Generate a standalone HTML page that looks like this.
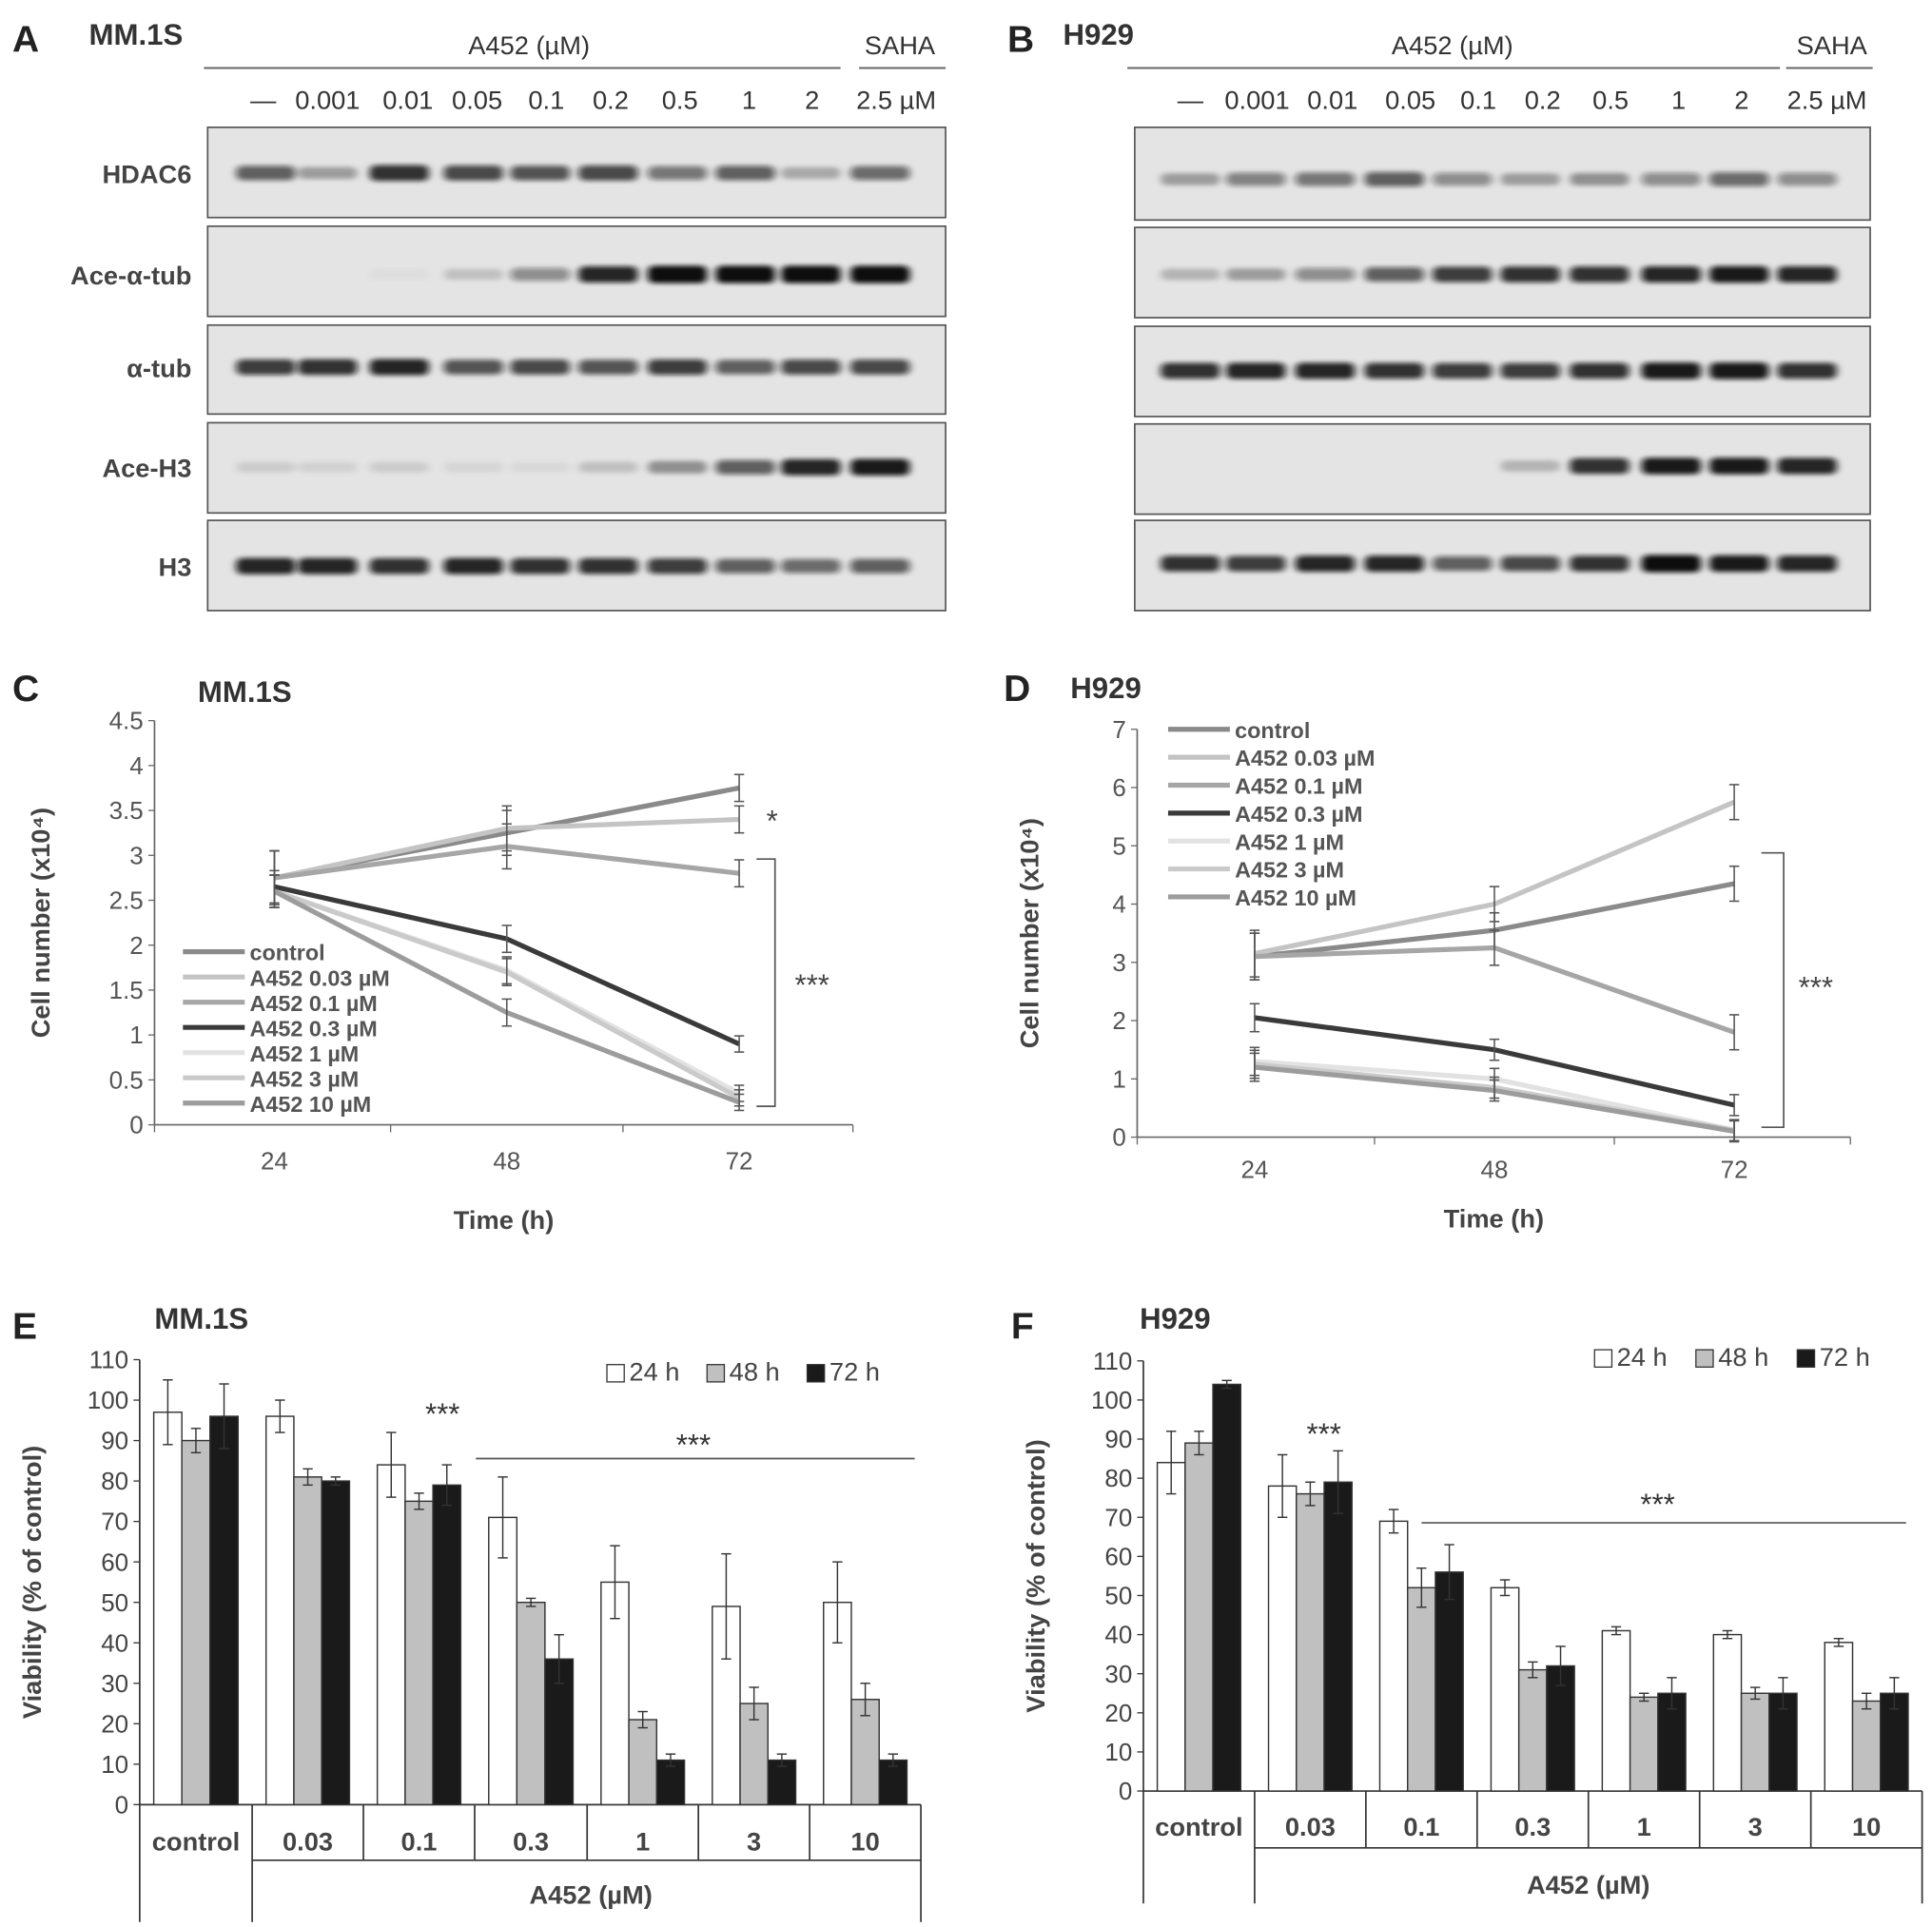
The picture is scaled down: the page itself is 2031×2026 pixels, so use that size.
<!DOCTYPE html>
<html><head><meta charset="utf-8"><style>
html,body{margin:0;padding:0;background:#fff;}
svg{display:block;font-family:"Liberation Sans",Arial,sans-serif;}
</style></head><body>
<svg id="fig" width="2031" height="2026" viewBox="0 0 1563 1559" preserveAspectRatio="none">
<defs>
<filter id="blur" x="-50%" y="-100%" width="200%" height="300%"><feGaussianBlur stdDeviation="3 1.8"/></filter>
</defs>
<g id="root"></g>
</svg>
<script>
// ---------- Western blot data ----------
const laneLabelsA = ["—","0.001","0.01","0.05","0.1","0.2","0.5","1","2","2.5 µM"];
const blotNames = ["HDAC6","Ace-α-tub","α-tub","Ace-H3","H3"];
const blotA_HDAC6 = [0.6,0.3,0.8,0.7,0.65,0.7,0.5,0.6,0.25,0.55];
const blotA_AceTub = [0,0,0.03,0.15,0.4,0.85,1,1,1,1];
const blotA_Tub = [0.75,0.8,0.85,0.65,0.7,0.65,0.75,0.6,0.7,0.7];
const blotA_AceH3 = [0.1,0.08,0.1,0.06,0.05,0.15,0.35,0.6,0.85,0.9];
const blotA_H3 = [0.85,0.85,0.8,0.85,0.8,0.8,0.75,0.6,0.55,0.6];
const blotB_HDAC6 = [0.3,0.45,0.5,0.6,0.4,0.3,0.35,0.4,0.55,0.4];
const blotB_AceTub = [0.2,0.3,0.4,0.6,0.75,0.8,0.8,0.85,0.9,0.85];
const blotB_Tub = [0.8,0.85,0.85,0.8,0.75,0.75,0.8,0.9,0.9,0.8];
const blotB_AceH3 = [0,0,0,0,0,0.2,0.8,0.9,0.9,0.85];
const blotB_H3 = [0.8,0.75,0.85,0.85,0.6,0.7,0.8,1,0.9,0.85];

// ---------- Line chart data ----------
const timeLabels = ["24","48","72"];
const seriesNames = ["control","A452 0.03 µM","A452 0.1 µM","A452 0.3 µM","A452 1 µM","A452 3 µM","A452 10 µM"];
const seriesColors = ["#8a8a8a","#c4c4c4","#a6a6a6","#3a3a3a","#e2e2e2","#cacaca","#9c9c9c"];
const mm_control=[2.75,3.25,3.75], mm_003=[2.75,3.3,3.4], mm_01=[2.75,3.1,2.8], mm_03=[2.65,2.07,0.9], mm_1=[2.6,1.72,0.35], mm_3=[2.6,1.7,0.3], mm_10=[2.6,1.25,0.25];
const mmErr=[0.3,0.25,0.15];
const h_control=[3.1,3.55,4.35], h_003=[3.15,4.0,5.75], h_01=[3.1,3.25,1.8], h_03=[2.05,1.5,0.55], h_1=[1.3,1.0,0.12], h_3=[1.25,0.85,0.12], h_10=[1.2,0.8,0.1];
const hErr=[0.4,0.3,0.3];
const cTicks=["0","0.5","1","1.5","2","2.5","3","3.5","4","4.5"];
const dTicks=["0","1","2","3","4","5","6","7"];

// ---------- Bar chart data ----------
const barCats=["control","0.03","0.1","0.3","1","3","10"];
const barLegend=["24 h","48 h","72 h"];
const barColors=["#ffffff","#c0c0c0","#1a1a1a"];
const e24=[97,96,84,71,55,49,50], e48=[90,81,75,50,21,25,26], e72=[96,80,79,36,11,11,11];
const e24err=[8,4,8,10,9,13,10], e48err=[3,2,2,1,2,4,4], e72err=[8,1,5,6,1.5,1.5,1.5];
const f24=[84,78,69,52,41,40,38], f48=[89,76,52,31,24,25,23], f72=[104,79,56,32,25,25,25];
const f24err=[8,8,3,2,1,1,1], f48err=[3,3,5,2,1,1.5,2], f72err=[1,8,7,5,4,4,4];
const barTicks=["0","10","20","30","40","50","60","70","80","90","100","110"];

const NS="http://www.w3.org/2000/svg";
const root=document.getElementById('root');
function mk(tag,attrs,parent,txt){const e=document.createElementNS(NS,tag);for(const k in attrs)e.setAttribute(k,attrs[k]);if(txt!==undefined)e.textContent=txt;(parent||root).appendChild(e);return e;}
function txt(x,y,s,size,opts,parent){const o=Object.assign({x:x,y:y,'font-size':size,fill:'#333'},opts||{});const t=mk('text',o,parent,s);return t;}

function panelTitle(letter,lx,ly,name,nx,ny){
  const a=txt(lx,ly,letter,30,{fill:'#222','font-weight':'bold'});
  
  
  const b=txt(nx,ny,name,24,{'font-weight':'bold',fill:'#333'});
  
  
}

function blotPanel(id,boxX1,boxX2,boxes,lanesX,laneLabelX,data,bandY,labelX,showLabels,a452cx,lineA,sahaX,lineS){
  const g=mk('g',{});
  
  
  const t1=txt(a452cx,44,"A452 (µM)",21,{'text-anchor':'middle'},g);
  
  mk('line',{x1:lineA[0],x2:lineA[1],y1:55,y2:55,stroke:'#666','stroke-width':1.5},g);
  const t2=txt(sahaX,44,"SAHA",21,{'text-anchor':'middle'},g);
  
  mk('line',{x1:lineS[0],x2:lineS[1],y1:55,y2:55,stroke:'#666','stroke-width':1.5},g);
  laneLabelsA.forEach((l,i)=>{const t=txt(laneLabelX[i],88,l,21,{'text-anchor':'middle'},g);
    });
  boxes.forEach((b,k)=>{
    const r=mk('rect',{x:boxX1,y:b[0],width:boxX2-boxX1,height:b[1]-b[0],fill:'#e4e4e4',stroke:'#555','stroke-width':1.3},g);
    
    
    if(showLabels){const t=txt(labelX,bandY[k]+8,blotNames[k],21,{'text-anchor':'end','font-weight':'bold',fill:'#444'},g);
      }
    data[k].forEach((v,i)=>{ if(v<=0) return;
      const band=mk('rect',{x:lanesX[i]-24,y:bandY[k]-4-3*v,width:48,height:8+6*v,rx:5,fill:'#111','fill-opacity':Math.min(1,v*1.05),filter:'url(#blur)'},g);
      
    });
  });
}
panelTitle("A",10,42,"MM.1S",72,36);
blotPanel('a',168,765,[[103,176],[183,256],[263,335],[342,415],[421,494]],
  [215,265,323,383,437,492,548,603,656,712],[213,265,330,386,442,494,550,606,657,725],
  [blotA_HDAC6,blotA_AceTub,blotA_Tub,blotA_AceH3,blotA_H3],[140,222,297,378,458],155,true,428,[165,680],728,[695,765]);
panelTitle("B",815,42,"H929",860,36);
blotPanel('b',918,1513,[[103,178],[184,257],[264,337],[343,416],[421,494]],
  [963,1016,1072,1128,1183,1238,1294,1352,1407,1462],[963,1017,1078,1141,1196,1248,1303,1358,1409,1478],
  [blotB_HDAC6,blotB_AceTub,blotB_Tub,blotB_AceH3,blotB_H3],[145,222,300,377,456],0,false,1175,[912,1440],1482,[1445,1515]);

function lineChart(id,ax,ay0,ax2,ymax,ytop,ticks,step,xs,seps,series,errs,legX,legY,legStep,yLabX,xlabOff,titleOff){
  const g=mk('g',{});
  
  
  const sy=v=>ay0-(v/ymax)*(ay0-ytop);
  const sx=i=>xs[i];
  mk('line',{x1:ax,x2:ax,y1:ytop,y2:ay0,stroke:'#666','stroke-width':1.3},g);
  mk('line',{x1:ax,x2:ax2,y1:ay0,y2:ay0,stroke:'#666','stroke-width':1.3},g);
  ticks.forEach((t,i)=>{const v=i*step;const y=sy(v);
    mk('line',{x1:ax-5,x2:ax,y1:y,y2:y,stroke:'#666'},g);
    const tt=txt(ax-9,y+7,t,20,{'text-anchor':'end',fill:'#555'},g);
    });
  seps.forEach(x=>mk('line',{x1:x,x2:x,y1:ay0,y2:ay0+6,stroke:'#666'},g));
  timeLabels.forEach((l,i)=>{const t=txt(sx(i),ay0+xlabOff,l,20,{'text-anchor':'middle',fill:'#555'},g);
    });
  const xt=txt((ax+ax2)/2,ay0+titleOff,"Time (h)",21,{'text-anchor':'middle','font-weight':'bold',fill:'#444'},g);
  
  const yt=txt(0,0,"Cell number (x10⁴)",21,{'text-anchor':'middle','font-weight':'bold',fill:'#444',transform:`translate(${yLabX},${(ay0+ytop)/2}) rotate(-90)`},g);
  
  series.forEach((s,k)=>{
    const p=s.map((v,i)=>`${sx(i)},${sy(v)}`).join(' ');
    const pl=mk('polyline',{points:p,fill:'none',stroke:seriesColors[k],'stroke-width':4},g);
    
    s.forEach((v,i)=>{const e=errs[i]*(k>=3?0.6:1);
      mk('line',{x1:sx(i),x2:sx(i),y1:sy(v+e),y2:sy(v-e),stroke:'#555','stroke-width':1.2},g);
      mk('line',{x1:sx(i)-4,x2:sx(i)+4,y1:sy(v+e),y2:sy(v+e),stroke:'#555','stroke-width':1.2},g);
      mk('line',{x1:sx(i)-4,x2:sx(i)+4,y1:sy(v-e),y2:sy(v-e),stroke:'#555','stroke-width':1.2},g);});
    const ly=legY+k*legStep;
    const ll=mk('line',{x1:legX,x2:legX+50,y1:ly,y2:ly,stroke:seriesColors[k],'stroke-width':4},g);
    
    const lt=txt(legX+54,ly+7,seriesNames[k],18,{'font-weight':'bold',fill:'#555'},g);
    
  });
  return {g,sy};
}
panelTitle("C",10,567,"MM.1S",160,568);
const C=lineChart('c',125,910,690,4.5,583,cTicks,0.5,[222,410,598],[125,316,504,690],
  [mm_control,mm_003,mm_01,mm_03,mm_1,mm_3,mm_10],mmErr,148,770,20.4,40,36,84);
mk('text',{x:620,y:672,'font-size':24,fill:'#444'},C.g,"*");
mk('polyline',{points:"612,695 627,695 627,895 612,895",fill:'none',stroke:'#555','stroke-width':1.3},C.g);
mk('text',{x:643,y:805,'font-size':24,fill:'#444'},C.g,"***");
panelTitle("D",812,567,"H929",866,565);
const D=lineChart('d',920,920,1497,7,590,dTicks,1,[1015,1209,1403],[920,1112,1306,1497],
  [h_control,h_003,h_01,h_03,h_1,h_3,h_10],hErr,945,590,22.6,840,33,73);
mk('polyline',{points:"1425,690 1443,690 1443,912 1425,912",fill:'none',stroke:'#555','stroke-width':1.3},D.g);
mk('text',{x:1455,y:807,'font-size':24,fill:'#444'},D.g,"***");

function barChart(id,ax,ay0,ytop,bounds,vals,errs,catY,tableBottom,outerBottom,a452X,a452Y,legX,legY,legStep){
  const g=mk('g',{});
  
  
  const sy=v=>ay0-(v/110)*(ay0-ytop);
  barTicks.forEach((t,i)=>{const y=sy(i*10);
    mk('line',{x1:ax-5,x2:ax,y1:y,y2:y,stroke:'#333'},g);
    const tt=txt(ax-9,y+7,t,20,{'text-anchor':'end',fill:'#444'},g);
    });
  mk('line',{x1:ax,x2:ax,y1:ytop,y2:outerBottom,stroke:'#333','stroke-width':1.3},g);
  mk('line',{x1:ax,x2:bounds[bounds.length-1],y1:ay0,y2:ay0,stroke:'#333','stroke-width':1.3},g);
  mk('line',{x1:bounds[1],x2:bounds[bounds.length-1],y1:tableBottom,y2:tableBottom,stroke:'#333','stroke-width':1.3},g);
  bounds.forEach((b,i)=>{ if(i===0) return;
    const bot=(i===1||i===bounds.length-1)?outerBottom:tableBottom;
    mk('line',{x1:b,x2:b,y1:ay0,y2:bot,stroke:'#333','stroke-width':1.3},g);});
  barCats.forEach((c,ci)=>{
    const cx=(bounds[ci]+bounds[ci+1])/2;
    const w=(bounds[ci+1]-bounds[ci])*0.25;
    const lt=txt(cx,catY,c,21,{'text-anchor':'middle','font-weight':'bold',fill:'#444'},g);
    
    for(let s=0;s<3;s++){
      const v=vals[s][ci],e=errs[s][ci];
      const x=cx+(s-1)*w;
      const r=mk('rect',{x:x-w/2,y:sy(v),width:w,height:sy(0)-sy(v),fill:barColors[s],stroke:'#333','stroke-width':1.1},g);
      
      mk('line',{x1:x,x2:x,y1:sy(v+e),y2:sy(v-e),stroke:'#333','stroke-width':1.1},g);
      mk('line',{x1:x-4,x2:x+4,y1:sy(v+e),y2:sy(v+e),stroke:'#333','stroke-width':1.1},g);
      mk('line',{x1:x-4,x2:x+4,y1:sy(v-e),y2:sy(v-e),stroke:'#333','stroke-width':1.1},g);
    }
  });
  const at=txt(a452X,a452Y,"A452 (µM)",21,{'text-anchor':'middle','font-weight':'bold',fill:'#444'},g);
  
  const yt=txt(0,0,"Viability (% of control)",21,{'text-anchor':'middle','font-weight':'bold',fill:'#444',transform:`translate(${ax-80},${(ay0+ytop)/2}) rotate(-90)`},g);
  
  barLegend.forEach((l,i)=>{const x=legX+i*legStep;
    const r=mk('rect',{x:x,y:legY-8,width:14,height:14,fill:barColors[i],stroke:'#333'},g);
    
    const t=txt(x+18,legY+5,l,21,{fill:'#444'},g);
    });
  return {g,sy};
}
panelTitle("E",10,1083,"MM.1S",125,1075);
const E=barChart('e',113,1460,1100,[113,204,294,384,475,565,655,745],[e24,e48,e72],[e24err,e48err,e72err],1497,1505,1555,478,1540,491,1112,81);
mk('text',{x:344,y:1152,'font-size':24,fill:'#333'},E.g,"***");
mk('line',{x1:385,x2:740,y1:1180,y2:1180,stroke:'#555','stroke-width':1.3},E.g);
mk('text',{x:547,y:1177,'font-size':24,fill:'#333'},E.g,"***");
panelTitle("F",818,1083,"H929",922,1075);
const F=barChart('f',925,1449,1101,[925,1015,1105,1195,1285,1375,1465,1555],[f24,f48,f72],[f24err,f48err,f72err],1485,1495,1540,1285,1532,1290,1100,82);
mk('text',{x:1057,y:1168,'font-size':24,fill:'#333'},F.g,"***");
mk('line',{x1:1150,x2:1542,y1:1232,y2:1232,stroke:'#555','stroke-width':1.3},F.g);
mk('text',{x:1327,y:1225,'font-size':24,fill:'#333'},F.g,"***");
</script>
</body></html>
